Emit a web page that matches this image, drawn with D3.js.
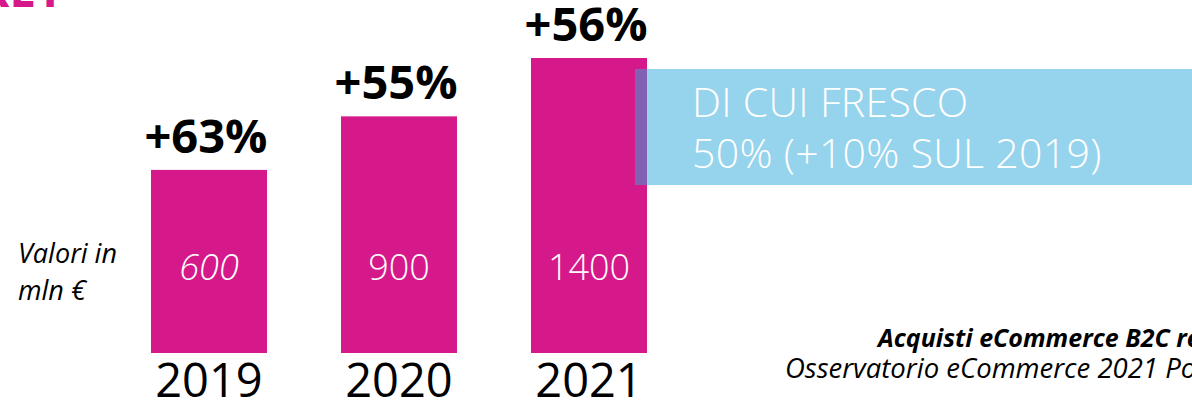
<!DOCTYPE html>
<html>
<head>
<meta charset="utf-8">
<script src="https://cdn.jsdelivr.net/npm/d3@7"></script>
<style>
  html, body { margin: 0; padding: 0; background: #fff; overflow: hidden; }
  svg { display: block; }
</style>
</head>
<body>
<script>
// ---- data ----
const years = ["2019", "2020", "2021"];
const values = [600, 900, 1400];
const valueLabels = ["600", "900", "1400"];
const growthLabels = ["+63%", "+55%", "+56%"];
const calloutLines = ["DI CUI FRESCO", "50% (+10% SUL 2019)"];
const unitLines = ["Valori in", "mln €"];
const sourceLines = ["Acquisti eCommerce B2C retail", "Osservatorio eCommerce 2021 Politecnico di Milano"];
const titleText = "GROCERY MARKET";

const W = 1192, H = 404;
const PINK = "#D6198A";

const svg = d3.select("body").append("svg")
  .attr("width", W).attr("height", H);

svg.append("rect").attr("width", W).attr("height", H).attr("fill", "#fff");

// cut-off title at the top-left
svg.append("text")
  .attr("x", 64).attr("y", 7)
  .attr("text-anchor", "end")
  .attr("font-family", "Open Sans, sans-serif")
  .attr("font-weight", 700)
  .attr("font-size", 48)
  .attr("fill", PINK)
  .text(titleText);

const x = d3.scaleBand().domain(years).range([151, 647]).paddingInner(0.3895).paddingOuter(0);
const y = d3.scaleLog().domain([150, 1400]).range([353, 58]);

const data = years.map((yr, i) => ({ yr, v: values[i], lab: valueLabels[i], g: growthLabels[i] }));

// bars
svg.selectAll("rect.bar").data(data).join("rect")
  .attr("class", "bar")
  .attr("x", d => x(d.yr))
  .attr("y", d => y(d.v))
  .attr("width", x.bandwidth())
  .attr("height", d => y.range()[0] - y(d.v))
  .attr("fill", PINK);

// growth labels above bars
svg.selectAll("text.growth").data(data).join("text")
  .attr("class", "growth")
  .attr("x", d => x(d.yr) + x.bandwidth() / 2 - 3)
  .attr("y", d => y(d.v) - 17)
  .attr("text-anchor", "middle")
  .attr("font-family", "Open Sans, sans-serif")
  .attr("font-weight", 700)
  .attr("font-size", 47)
  .attr("fill", "#000")
  .text(d => d.g);

// value labels inside bars
svg.selectAll("text.val").data(data).join("text")
  .attr("class", "val")
  .attr("x", d => x(d.yr) + x.bandwidth() / 2)
  .attr("y", 280)
  .attr("text-anchor", "middle")
  .attr("font-family", "Open Sans, sans-serif")
  .attr("font-weight", 300)
  .attr("font-style", (d, i) => i === 0 ? "italic" : "normal")
  .attr("font-size", 36)
  .attr("fill", "#fff")
  .text(d => d.lab);

// year axis labels
const xAxis = d3.axisBottom(x).tickSize(0).tickPadding(0);
const gx = svg.append("g").attr("transform", `translate(0,${y.range()[0]})`).call(xAxis);
gx.select(".domain").remove();
gx.selectAll("text")
  .attr("dy", null)
  .attr("y", 44)
  .attr("font-family", "Open Sans, sans-serif")
  .attr("font-size", 47)
  .attr("font-weight", 400)
  .attr("fill", "#000");

// callout box (semi-transparent blue overlapping last bar)
svg.append("rect")
  .attr("x", 635).attr("y", 69)
  .attr("width", W - 635).attr("height", 116)
  .attr("fill", "rgb(45,167,217)")
  .attr("fill-opacity", 0.5);

svg.selectAll("text.callout").data(calloutLines).join("text")
  .attr("class", "callout")
  .attr("x", 692)
  .attr("y", (d, i) => 117 + i * 51)
  .attr("font-family", "Open Sans, sans-serif")
  .attr("font-weight", 300)
  .attr("font-size", 41)
  .attr("letter-spacing", 0.3)
  .attr("fill", "#fff")
  .text(d => d);

// unit label on the left
svg.selectAll("text.unit").data(unitLines).join("text")
  .attr("class", "unit")
  .attr("x", 18)
  .attr("y", (d, i) => 263 + i * 37)
  .attr("font-family", "Open Sans, sans-serif")
  .attr("font-style", "italic")
  .attr("font-size", 27)
  .attr("fill", "#000")
  .text(d => d);

// source note bottom-right
svg.selectAll("text.src").data(sourceLines).join("text")
  .attr("class", "src")
  .attr("x", (d, i) => i === 0 ? 878 : 785)
  .attr("y", (d, i) => i === 0 ? 347 : 378)
  .attr("font-family", "Open Sans, sans-serif")
  .attr("font-style", "italic")
  .attr("font-weight", (d, i) => i === 0 ? 700 : 400)
  .attr("font-size", (d, i) => i === 0 ? 25 : 27.5)
  .attr("fill", "#000")
  .text(d => d);
</script>
</body>
</html>
